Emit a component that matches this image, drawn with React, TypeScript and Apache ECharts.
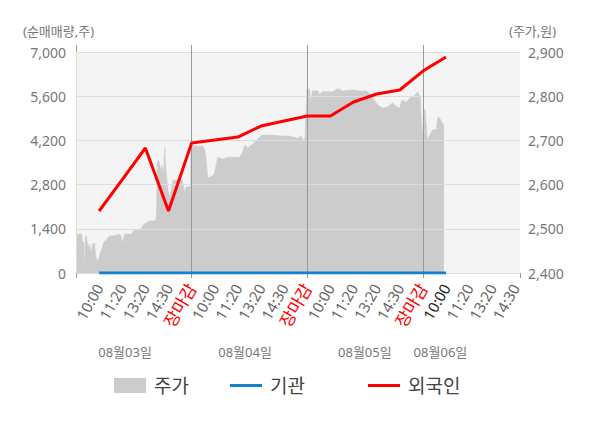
import React, { useEffect, useRef } from 'react';
import * as echarts from 'echarts';

// ---- data ----
const slotLabels = ['10:00', '11:20', '13:20', '14:30', '장마감'];
const labelSlots = [1, 2, 3, 4, 5, 6, 7, 8, 9, 10, 11, 12, 13, 14, 15, 16, 17, 18, 19];
const currentSlot = 16;
const dayBoundaries = [5, 10, 15];
const dateLabels = ['08월03일', '08월04일', '08월05일', '08월06일'];
const datePositions = [2.12, 7.31, 12.49, 15.76];
const leftAxisName = '(순매매량,주)';
const rightAxisName = '(주가,원)';

const flowTimes = [1, 2, 3, 4, 5, 6, 7, 8, 9, 10, 11, 12, 13, 14, 15, 16];
const foreignNet = [1964, 2960, 3959, 1964, 4118, 4212, 4307, 4655, 4814, 4972, 4972, 5416, 5669, 5796, 6397, 6841];
const institutionNet = [0, 0, 0, 0, 0, 0, 0, 0, 0, 0, 0, 0, 0, 0, 0, 0];

const priceTimes = [
  0.0, 0.05, 0.25, 0.28, 0.34, 0.36, 0.4, 0.45, 0.52, 0.58, 0.66, 0.72, 0.8, 0.86, 0.95,
  1.02, 1.1, 1.2, 1.3, 1.45, 1.7, 1.83, 1.95, 2.01, 2.1, 2.4, 2.5, 2.8, 2.85, 3.0, 3.2,
  3.44, 3.48, 3.51, 3.55, 3.6, 3.66, 3.72, 3.78, 3.84, 3.88, 3.92, 4.0, 4.06, 4.13, 4.2,
  4.5, 4.6, 4.68, 4.76, 4.95,
  4.97, 5.27, 5.49, 5.57, 5.63, 5.7, 5.79, 5.96, 6.06, 6.13, 6.35, 6.57, 7.08, 7.21, 7.3,
  7.43, 7.6, 7.73, 7.95, 8.03, 8.47, 8.9, 9.24, 9.59, 9.75, 9.81, 9.9,
  9.98, 10.1, 10.16, 10.22, 10.45, 10.54, 10.65, 11.1, 11.27, 11.4, 11.5, 12.0, 12.3,
  12.57, 12.66, 12.85, 13.05, 13.26, 13.48, 13.69, 13.87, 14.0, 14.08, 14.3, 14.43, 14.6,
  14.73, 14.77, 14.89,
  14.95, 14.98, 15.03, 15.1, 15.19, 15.29, 15.42, 15.58, 15.64, 15.72, 15.84, 15.91,
];
const priceValues = [
  2433, 2488, 2488, 2470, 2470, 2407, 2480, 2484, 2457, 2466, 2445, 2466, 2468, 2436, 2425,
  2440, 2452, 2470, 2474, 2484, 2484, 2488, 2484, 2468, 2488, 2488, 2497, 2497, 2504, 2513, 2518,
  2518, 2531, 2649, 2655, 2651, 2633, 2644, 2620, 2685, 2640, 2617, 2580, 2572, 2592, 2610,
  2610, 2610, 2583, 2595, 2595,
  2690, 2687, 2687, 2678, 2656, 2615, 2617, 2622, 2644, 2662, 2658, 2662, 2662, 2674, 2690,
  2683, 2690, 2696, 2708, 2712, 2712, 2710, 2710, 2705, 2710, 2699, 2705,
  2816, 2816, 2785, 2812, 2812, 2803, 2810, 2810, 2816, 2816, 2812, 2814, 2812,
  2812, 2807, 2795, 2780, 2773, 2776, 2785, 2776, 2773, 2791, 2787, 2796, 2800,
  2807, 2810, 2798,
  2730, 2705, 2769, 2769, 2701, 2712, 2724, 2724, 2753, 2751, 2739, 2733,
];

const FONT = '"Noto Sans", "Noto Sans CJK KR", sans-serif';
const X_MAX = 19.2;
const AXIS_TEXT = '#777';

export default function App() {
  const ref = useRef<HTMLDivElement>(null);

  useEffect(() => {
    if (!ref.current) return;
    const chart = echarts.init(ref.current, undefined, { renderer: 'svg' });

    const legendBase = {
      top: 376,
      padding: 0,
      itemGap: 0,
      selectedMode: false,
      icon: 'rect',
      itemWidth: 32,
      textStyle: { fontSize: 19, color: '#444', fontFamily: FONT, padding: [0, 0, 0, 3] },
    };

    const option: any = {
      animation: false,
      textStyle: { fontFamily: FONT },
      grid: {
        left: 76,
        right: 80,
        top: 52,
        bottom: 155,
        show: true,
        backgroundColor: '#f4f4f4',
        borderWidth: 0,
      },
      graphic: [
        {
          type: 'text',
          left: 23,
          top: 24,
          style: { text: leftAxisName, fill: AXIS_TEXT, fontSize: 13, fontFamily: FONT },
        },
        {
          type: 'text',
          left: 509,
          top: 24,
          style: { text: rightAxisName, fill: AXIS_TEXT, fontSize: 13, fontFamily: FONT },
        },
      ],
      legend: [
        { ...legendBase, left: 114, itemHeight: 15, data: ['주가'] },
        { ...legendBase, left: 230, itemHeight: 3, data: ['기관'] },
        { ...legendBase, left: 368, itemHeight: 3, data: ['외국인'] },
      ],
      xAxis: [
        {
          type: 'value',
          min: 0,
          max: X_MAX,
          position: 'bottom',
          offset: 1,
          axisLine: { show: true, lineStyle: { color: '#999' } },
          axisTick: {
            show: true,
            customValues: [0, ...dayBoundaries, X_MAX],
            length: 5,
            lineStyle: { color: '#999' },
          },
          axisLabel: {
            customValues: labelSlots,
            rotate: 60,
            margin: 11,
            fontSize: 15,
            color: '#666',
            formatter: (v: number) => {
              const i = Math.round(v);
              const lbl = slotLabels[(i - 1) % 5];
              if (lbl === '장마감') return '{red|' + lbl + '}';
              if (i === currentSlot) return '{cur|' + lbl + '}';
              return lbl;
            },
            rich: {
              red: { color: '#ff0000', fontSize: 17, fontFamily: FONT },
              cur: { color: '#222', fontSize: 15, fontFamily: FONT },
            },
          },
          splitLine: { show: false },
        },
        {
          type: 'value',
          min: 0,
          max: X_MAX,
          position: 'bottom',
          offset: 64,
          axisLine: { show: false },
          axisTick: { show: false },
          axisLabel: {
            customValues: datePositions,
            fontSize: 13,
            color: AXIS_TEXT,
            formatter: (v: number) => {
              const idx = datePositions.findIndex((p) => Math.abs(p - v) < 1e-6);
              return idx >= 0 ? dateLabels[idx] : '';
            },
          },
          splitLine: { show: false },
        },
        {
          type: 'value',
          min: 0,
          max: X_MAX,
          position: 'top',
          axisLine: { show: false },
          axisTick: {
            show: true,
            customValues: [0, ...dayBoundaries],
            length: 7,
            lineStyle: { color: '#999' },
          },
          axisLabel: { show: false },
          splitLine: { show: false },
        },
      ],
      yAxis: [
        {
          type: 'value',
          min: 0,
          max: 7000,
          interval: 1400,
          position: 'left',
          z: 3,
          axisLine: { show: true, lineStyle: { color: '#999' } },
          axisTick: { show: false },
          axisLabel: { color: AXIS_TEXT, fontSize: 14, margin: 10 },
          splitLine: { show: true, lineStyle: { color: '#dcdcdc' } },
        },
        {
          type: 'value',
          min: 2400,
          max: 2900,
          interval: 100,
          position: 'right',
          z: 3,
          axisLine: { show: true, lineStyle: { color: '#dddddd' } },
          axisTick: { show: false },
          axisLabel: { color: AXIS_TEXT, fontSize: 14, margin: 8 },
          splitLine: { show: false },
        },
      ],
      series: [
        {
          name: '주가',
          type: 'line',
          xAxisIndex: 0,
          yAxisIndex: 1,
          z: 1,
          symbol: 'none',
          showSymbol: false,
          data: priceTimes.map((t, i) => [t, priceValues[i]]),
          lineStyle: { width: 0.5, color: '#cccccc' },
          itemStyle: { color: '#cccccc' },
          areaStyle: { color: '#cccccc', opacity: 1 },
        },
        {
          name: '기관',
          type: 'line',
          xAxisIndex: 0,
          yAxisIndex: 0,
          z: 5,
          symbol: 'none',
          showSymbol: false,
          data: flowTimes.map((t, i) => [t, institutionNet[i]]),
          lineStyle: { width: 3, color: '#1380d0' },
          itemStyle: { color: '#1380d0' },
          markLine: {
            silent: true,
            symbol: 'none',
            label: { show: false },
            lineStyle: { color: '#999', width: 1, type: 'solid' },
            data: dayBoundaries.map((d) => ({ xAxis: d })),
          },
        },
        {
          name: '외국인',
          type: 'line',
          xAxisIndex: 0,
          yAxisIndex: 0,
          z: 6,
          symbol: 'none',
          showSymbol: false,
          data: flowTimes.map((t, i) => [t, foreignNet[i]]),
          lineStyle: { width: 3, color: '#ff0000' },
          itemStyle: { color: '#ff0000' },
        },
      ],
    };

    chart.setOption(option);
    return () => chart.dispose();
  }, []);

  return (
    <div
      ref={ref}
      style={{ position: 'absolute', left: 0, top: 0, width: 600, height: 428 }}
    />
  );
}
